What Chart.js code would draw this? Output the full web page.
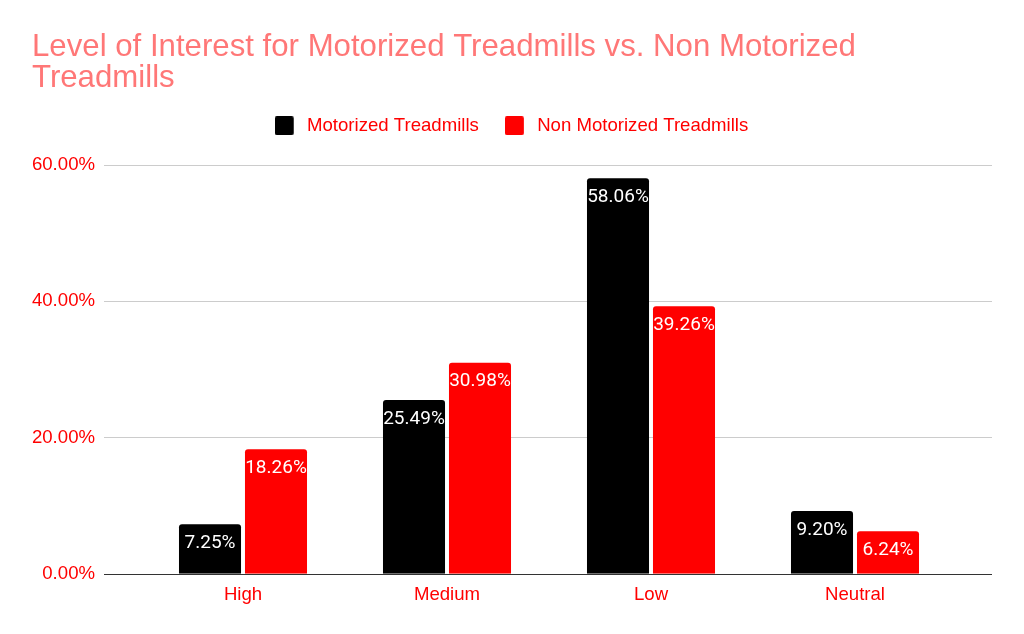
<!DOCTYPE html>
<html><head><meta charset="utf-8">
<script src="https://cdn.jsdelivr.net/npm/chart.js@4/dist/chart.umd.min.js"></script>
<style>html,body{margin:0;padding:0;background:#fff}#wrap{width:1024px;height:634px}</style>
</head><body><div id="wrap"><canvas id="c" width="1024" height="634"></canvas></div>
<script>
const categories = ["High", "Medium", "Low", "Neutral"];
const seriesNames = ["Motorized Treadmills", "Non Motorized Treadmills"];
const motorized = [7.25, 25.49, 58.06, 9.20];
const nonMotorized = [18.26, 30.98, 39.26, 6.24];
const yTicks = [0, 20, 40, 60];
const titleLines = ["Level of Interest for Motorized Treadmills vs. Non Motorized", "Treadmills"];
const seriesColors = ['#000000', '#ff0000'];

const RED = '#ff0000';
const FONT = '"Liberation Sans", Arial, sans-serif';
const LABEL_FONT = 'Roboto';

function legendSwatch(color) {
  const c = document.createElement('canvas');
  c.width = 23; c.height = 19;
  const g = c.getContext('2d');
  g.fillStyle = color;
  g.beginPath();
  if (g.roundRect) g.roundRect(0, 0, 19, 19, 2); else g.rect(0, 0, 19, 19);
  g.fill();
  return c;
}
const swatches = seriesColors.map(legendSwatch);

const gridPlugin = {
  id: 'extGrid',
  beforeDatasetsDraw(chart) {
    const y = chart.scales.y, a = chart.chartArea, ctx = chart.ctx;
    const x0 = a.left - 37, x1 = a.right + 35;
    ctx.save();
    y.ticks.forEach(t => {
      const py = Math.round(y.getPixelForValue(t.value)) + 0.5;
      ctx.strokeStyle = t.value === 0 ? '#333333' : '#cccccc';
      ctx.lineWidth = 1;
      ctx.beginPath(); ctx.moveTo(x0, py); ctx.lineTo(x1, py); ctx.stroke();
    });
    ctx.restore();
  }
};
const labelPlugin = {
  id: 'barLabels',
  afterDatasetsDraw(chart) {
    const ctx = chart.ctx;
    ctx.save();
    ctx.fillStyle = '#ffffff';
    ctx.font = '19px ' + LABEL_FONT;
    ctx.textAlign = 'center';
    ctx.textBaseline = 'middle';
    chart.data.datasets.forEach((ds, di) => {
      chart.getDatasetMeta(di).data.forEach((bar, i) => {
        ctx.fillText(ds.data[i].toFixed(2) + '%', bar.x, bar.y + 19);
      });
    });
    ctx.restore();
  }
};
const legendPad = {
  id: 'legendPad',
  beforeInit(chart) {
    const lg = chart.legend;
    if (!lg) return;
    const f = lg.fit;
    lg.fit = function () { f.call(this); this.height += 20; };
  },
  afterLayout(chart) {
    const lg = chart.legend;
    if (!lg) return;
    lg.left += 17; lg.right += 17;
  }
};

new Chart(document.getElementById('c'), {
  type: 'bar',
  data: {
    labels: categories,
    datasets: [
      { label: seriesNames[0], data: motorized, backgroundColor: seriesColors[0], borderRadius: 3, borderSkipped: 'bottom' },
      { label: seriesNames[1], data: nonMotorized, backgroundColor: seriesColors[1], borderRadius: 3, borderSkipped: 'bottom' }
    ]
  },
  options: {
    responsive: false,
    animation: false,
    layout: { padding: { left: 32, right: 67, top: 32, bottom: 18 } },
    datasets: { bar: { categoryPercentage: 0.647, barPercentage: 0.94 } },
    plugins: {
      title: {
        display: true, text: titleLines, align: 'start', color: '#ff7777',
        font: { family: FONT, size: 31.2, weight: 'normal', lineHeight: 1.0 },
        padding: { top: 0, bottom: -4 }
      },
      legend: {
        display: true, position: 'top', align: 'center',
        labels: {
          color: RED, font: { family: FONT, size: 18.6 }, padding: 26,
          usePointStyle: true, pointStyleWidth: 23, boxHeight: 19,
          generateLabels(chart) {
            const items = Chart.defaults.plugins.legend.labels.generateLabels(chart);
            items.forEach(it => { it.pointStyle = swatches[it.datasetIndex]; });
            return items;
          }
        }
      },
      tooltip: { enabled: false }
    },
    scales: {
      x: {
        grid: { display: false, drawTicks: false },
        border: { display: false },
        ticks: { color: RED, font: { family: FONT, size: 18.6 }, padding: 10 }
      },
      y: {
        min: 0, max: 60,
        afterBuildTicks(s) { s.ticks = yTicks.map(v => ({ value: v })); },
        afterFit(s) { s.width = 109; },
        grid: { display: false, drawTicks: false },
        border: { display: false },
        ticks: { color: RED, font: { family: FONT, size: 18.6 }, padding: 46, callback: v => Number(v).toFixed(2) + '%' }
      }
    }
  },
  plugins: [gridPlugin, labelPlugin, legendPad]
});
</script></body></html>
